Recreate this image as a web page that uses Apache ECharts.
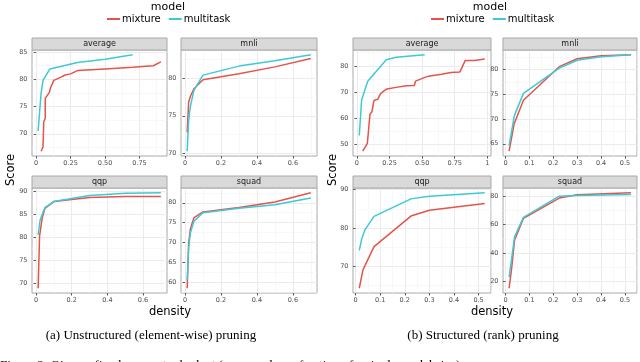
<!DOCTYPE html>
<html>
<head>
<meta charset="utf-8">
<script src="https://cdn.jsdelivr.net/npm/echarts@6/dist/echarts.min.js"></script>
<style>
  html, body { margin: 0; padding: 0; background: #fff; }
  #chart { width: 640px; height: 362px; }
</style>
</head>
<body>
<div id="chart"></div>
<script>
// --- (a) unstructured pruning: [density, score] ---
const aAvgMixture = [[0.036, 66.8], [0.05, 67.6], [0.055, 72.2], [0.066, 72.8], [0.066, 76.5], [0.08, 77.0],
  [0.096, 77.6], [0.104, 78.4], [0.128, 79.8], [0.18, 80.4], [0.21, 80.8], [0.25, 81.0], [0.3, 81.6],
  [0.5, 81.9], [0.7, 82.2], [0.71, 82.5], [0.85, 82.5], [0.905, 83.2]];
const aAvgMultitask = [[0.0145, 70.5], [0.026, 74.3], [0.036, 77.4], [0.05, 79.8], [0.1, 81.9],
  [0.3, 83.1], [0.5, 83.7], [0.7, 84.5]];
const aMnliMixture = [[0.012, 72.8], [0.02, 76.8], [0.03, 77.6], [0.05, 78.6], [0.1, 79.8], [0.3, 80.6], [0.5, 81.5], [0.7, 82.6]];
const aMnliMultitask = [[0.012, 70.3], [0.02, 74.3], [0.03, 76.3], [0.05, 78.4], [0.1, 80.4], [0.3, 81.6], [0.5, 82.3], [0.7, 83.1]];
const aQqpMixture = [[0.012, 68.9], [0.02, 80.2], [0.035, 84.2], [0.05, 86.2], [0.1, 87.7], [0.3, 88.6], [0.5, 88.8], [0.7, 88.8]];
const aQqpMultitask = [[0.012, 80.5], [0.023, 83.7], [0.05, 86.4], [0.1, 87.7], [0.3, 89.0], [0.5, 89.5], [0.7, 89.6]];
const aSquadMixture = [[0.012, 58.6], [0.02, 69.8], [0.03, 73.5], [0.05, 76.3], [0.1, 77.7], [0.3, 78.8], [0.4, 79.5], [0.5, 80.2], [0.7, 82.5]];
const aSquadMultitask = [[0.012, 60.7], [0.02, 68.5], [0.03, 72.5], [0.05, 75.4], [0.1, 77.5], [0.3, 78.6], [0.5, 79.5], [0.7, 81.2]];

// --- (b) structured (rank) pruning ---
const bAvgMixture = [[0.045, 47.5], [0.08, 50.5], [0.1, 61.5], [0.115, 62.5], [0.13, 66.8], [0.16, 67.3],
  [0.18, 69.3], [0.2, 70.2], [0.23, 71.2], [0.3, 71.8], [0.38, 72.4], [0.44, 72.5], [0.45, 74.2],
  [0.53, 75.8], [0.56, 76.1], [0.57, 76.7], [0.65, 76.8], [0.72, 77.5], [0.79, 77.7], [0.83, 82.0],
  [0.9, 82.0], [0.98, 82.6]];
const bAvgMultitask = [[0.018, 53.5], [0.036, 67.0], [0.083, 74.1], [0.225, 82.3], [0.3, 83.3], [0.52, 84.2]];
const bMnliMixture = [[0.015, 63.5], [0.036, 69.0], [0.075, 73.8], [0.225, 80.6], [0.3, 82.2], [0.4, 82.8], [0.525, 83.0]];
const bMnliMultitask = [[0.015, 64.6], [0.037, 70.7], [0.075, 75.2], [0.225, 80.3], [0.3, 81.9], [0.4, 82.6], [0.525, 83.0]];
const bQqpMixture = [[0.015, 64.2], [0.03, 69.0], [0.075, 75.1], [0.225, 83.1], [0.3, 84.6], [0.525, 86.4]];
const bQqpMultitask = [[0.015, 74.1], [0.025, 77.1], [0.038, 79.5], [0.075, 83.0], [0.225, 87.6], [0.3, 88.3], [0.525, 89.2]];
const bSquadMixture = [[0.015, 15.4], [0.025, 28.2], [0.038, 49.1], [0.075, 64.3], [0.225, 78.5], [0.3, 80.8], [0.525, 82.2]];
const bSquadMultitask = [[0.015, 23.1], [0.025, 35.2], [0.038, 51.4], [0.075, 65.0], [0.225, 79.8], [0.3, 80.3], [0.525, 81.0]];

// --- tick values and labels ---
const quarterTicks = [0, 0.25, 0.5, 0.75];
const quarterLabels = ['0', '0.25', '0.50', '0.75'];
const quarterTicksToOne = [0, 0.25, 0.5, 0.75, 1];
const quarterLabelsToOne = ['0', '0.25', '0.50', '0.75', '1'];
const fifthTicks = [0, 0.2, 0.4, 0.6];
const fifthLabels = ['0', '0.2', '0.4', '0.6'];
const tenthTicks = [0, 0.1, 0.2, 0.3, 0.4, 0.5];
const tenthLabels = ['0', '0.1', '0.2', '0.3', '0.4', '0.5'];
const aAvgY = [70, 75, 80, 85];
const aMnliY = [70, 75, 80];
const aQqpY = [70, 75, 80, 85, 90];
const aSquadY = [60, 65, 70, 75, 80];
const bAvgY = [50, 60, 70, 80];
const bMnliY = [65, 70, 75, 80];
const bQqpY = [70, 80, 90];
const bSquadY = [20, 40, 60, 80];

const MIXTURE_COLOR = '#E4544B';
const MULTITASK_COLOR = '#3DC9D6';
const FONT = 'DejaVu Sans';

// facet boxes: [left, top, width, height]
const panels = [
  { title: 'average', box: [32, 50, 135, 106], mix: aAvgMixture, mt: aAvgMultitask, xt: quarterTicks, xl: quarterLabels, yt: aAvgY },
  { title: 'mnli', box: [181, 50, 136, 106], mix: aMnliMixture, mt: aMnliMultitask, xt: fifthTicks, xl: fifthLabels, yt: aMnliY },
  { title: 'qqp', box: [32, 188, 135, 105], mix: aQqpMixture, mt: aQqpMultitask, xt: fifthTicks, xl: fifthLabels, yt: aQqpY },
  { title: 'squad', box: [181, 188, 136, 105], mix: aSquadMixture, mt: aSquadMultitask, xt: fifthTicks, xl: fifthLabels, yt: aSquadY },
  { title: 'average', box: [353, 50, 138, 106], mix: bAvgMixture, mt: bAvgMultitask, xt: quarterTicksToOne, xl: quarterLabelsToOne, yt: bAvgY },
  { title: 'mnli', box: [503, 50, 134, 106], mix: bMnliMixture, mt: bMnliMultitask, xt: tenthTicks, xl: tenthLabels, yt: bMnliY },
  { title: 'qqp', box: [353, 188, 138, 105], mix: bQqpMixture, mt: bQqpMultitask, xt: tenthTicks, xl: tenthLabels, yt: bQqpY },
  { title: 'squad', box: [503, 188, 134, 105], mix: bSquadMixture, mt: bSquadMultitask, xt: tenthTicks, xl: tenthLabels, yt: bSquadY },
];

// ggplot-like 5% expansion of the data range
function expand(vals) {
  const lo = Math.min(...vals), hi = Math.max(...vals);
  const pad = (hi - lo) * 0.05;
  return [lo - pad, hi + pad];
}

// minor breaks half-way between majors (and beyond the ends, if inside the limits)
function minors(ticks, lo, hi) {
  const step = ticks[1] - ticks[0];
  const out = [ticks[0] - step / 2];
  ticks.forEach(t => out.push(+(t + step / 2).toFixed(6)));
  return out.filter(v => v > lo && v < hi);
}

const grids = [], xAxes = [], yAxes = [], series = [], graphics = [];

panels.forEach((p, i) => {
  const [left, top, width, height] = p.box;
  grids.push({
    left, top, width, height, show: true, outerBoundsMode: 'none',
    backgroundColor: '#fff', borderColor: '#A8A8A8', borderWidth: 1, z: 0,
  });
  const all = p.mix.concat(p.mt);
  const [x0, x1] = expand(all.map(d => d[0]));
  const [y0, y1] = expand(all.map(d => d[1]));

  const hidden = { show: false };
  // minor grid axes
  xAxes.push({
    type: 'value', gridIndex: i, min: x0, max: x1, position: 'top',
    axisLine: hidden, axisLabel: hidden,
    axisTick: { show: false, customValues: minors(p.xt, x0, x1) },
    splitLine: { show: true, lineStyle: { color: '#F3F3F3', width: 0.6 } },
  });
  yAxes.push({
    type: 'value', gridIndex: i, min: y0, max: y1, position: 'right',
    axisLine: hidden, axisLabel: hidden,
    axisTick: { show: false, customValues: minors(p.yt, y0, y1) },
    splitLine: { show: true, lineStyle: { color: '#F3F3F3', width: 0.6 } },
  });
  // major axes with labels
  xAxes.push({
    type: 'value', gridIndex: i, min: x0, max: x1, position: 'bottom',
    axisLine: hidden,
    axisTick: { show: true, length: 2.5, customValues: p.xt, lineStyle: { color: '#333', width: 0.8 } },
    axisLabel: {
      customValues: p.xt, margin: 4, fontSize: 6.5, color: '#4D4D4D', fontFamily: FONT,
      formatter: v => { const k = p.xt.indexOf(v); return k >= 0 ? p.xl[k] : String(v); },
    },
    splitLine: { show: true, lineStyle: { color: '#EBEBEB', width: 1 } },
  });
  yAxes.push({
    type: 'value', gridIndex: i, min: y0, max: y1, position: 'left',
    axisLine: hidden,
    axisTick: { show: true, length: 2.5, customValues: p.yt, lineStyle: { color: '#333', width: 0.8 } },
    axisLabel: { customValues: p.yt, margin: 4.5, fontSize: 6.5, color: '#4D4D4D', fontFamily: FONT },
    splitLine: { show: true, lineStyle: { color: '#EBEBEB', width: 1 } },
  });

  const ax = 2 * i + 1;
  series.push({
    name: 'mixture', type: 'line', xAxisIndex: ax, yAxisIndex: ax, data: p.mix,
    symbol: 'none', silent: true, lineStyle: { width: 1.5, color: MIXTURE_COLOR }, itemStyle: { color: MIXTURE_COLOR },
  });
  series.push({
    name: 'multitask', type: 'line', xAxisIndex: ax, yAxisIndex: ax, data: p.mt,
    symbol: 'none', silent: true, lineStyle: { width: 1.5, color: MULTITASK_COLOR }, itemStyle: { color: MULTITASK_COLOR },
  });

  // facet strip
  graphics.push({
    type: 'rect', shape: { x: left, y: top - 12, width, height: 12 },
    style: { fill: '#D9D9D9', stroke: '#A8A8A8', lineWidth: 1 }, z: 5,
  });
  graphics.push({
    type: 'text', x: left + width / 2, y: top - 6,
    style: { text: p.title, fill: '#1A1A1A', font: `8px "${FONT}"`, textAlign: 'center', textVerticalAlign: 'middle' }, z: 6,
  });
});

// titles, axis names and captions
function label(x, y, text, size, opts = {}) {
  return {
    type: 'text', x, y, rotation: opts.rotation || 0, z: 6,
    style: {
      text, fill: opts.color || '#000', font: `${size}px ${opts.font || '"' + FONT + '"'}`,
      textAlign: opts.align || 'center', textVerticalAlign: opts.valign || 'middle',
    },
  };
}
graphics.push(label(168, 7, 'model', 11));
graphics.push(label(490, 7, 'model', 11));
graphics.push(label(11, 170, 'Score', 11.5, { rotation: Math.PI / 2 }));
graphics.push(label(333, 170, 'Score', 11.5, { rotation: Math.PI / 2 }));
graphics.push(label(170, 312, 'density', 11.5));
graphics.push(label(492, 312, 'density', 11.5));
graphics.push(label(151, 336, '(a) Unstructured (element-wise) pruning', 13, { font: '"Liberation Serif"' }));
graphics.push(label(483, 336, '(b) Structured (rank) pruning', 13, { font: '"Liberation Serif"' }));
graphics.push(label(0, 359, 'Figure 2: Given a fixed parameter budget (measured as a fraction of a single model size),', 13,
  { font: '"Liberation Serif"', align: 'left', valign: 'top' }));

const legendBase = {
  orient: 'horizontal', top: 14, padding: 0, icon: 'rect', itemWidth: 13, itemHeight: 2, itemGap: 8,
  data: ['mixture', 'multitask'], selectedMode: false,
  textStyle: { fontSize: 10, color: '#000', fontFamily: FONT, padding: [0, 0, 0, -3] },
};

const chart = echarts.init(document.getElementById('chart'), null, { renderer: 'canvas' });
chart.setOption({
  animation: false,
  backgroundColor: '#fff',
  legend: [{ ...legendBase, left: 107 }, { ...legendBase, left: 431 }],
  grid: grids,
  xAxis: xAxes,
  yAxis: yAxes,
  series,
  graphic: graphics,
});
</script>
</body>
</html>
